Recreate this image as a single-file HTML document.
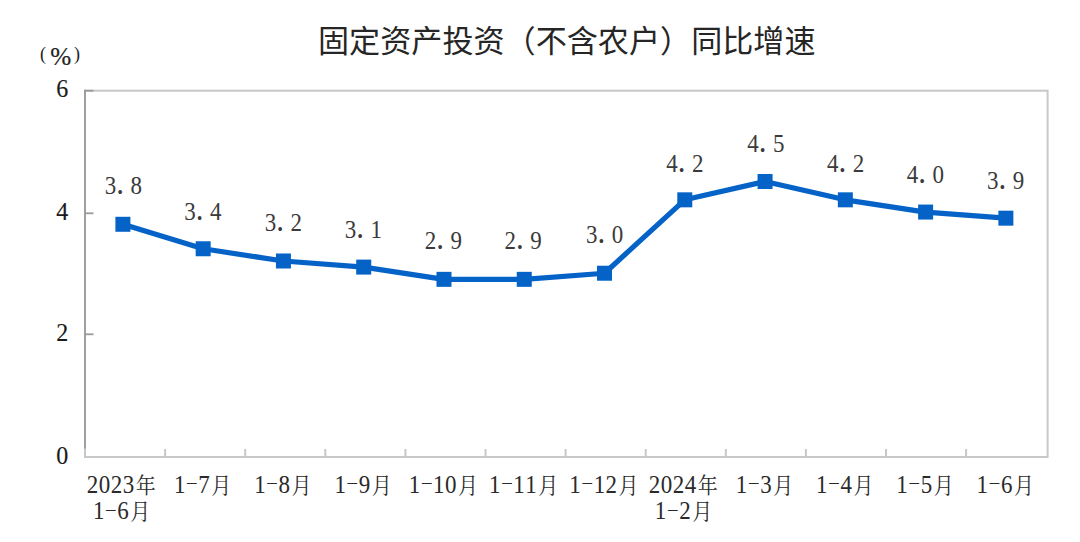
<!DOCTYPE html>
<html><head><meta charset="utf-8"><style>
html,body{margin:0;padding:0;background:#fff;}
body{width:1080px;height:542px;overflow:hidden;}
svg{display:block;}
.yl{font-family:"Liberation Serif","Noto Serif CJK SC",serif;font-size:24px;text-anchor:middle;fill:#1a1a1a;stroke:#1a1a1a;stroke-width:0.15px;}
.dl{font-family:"Liberation Serif","Noto Serif CJK SC",serif;font-size:23px;text-anchor:middle;fill:#3a3a3a;}
.xl{font-family:"Liberation Serif","Noto Serif CJK SC",serif;font-size:23px;text-anchor:middle;fill:#2a2a2a;letter-spacing:0.5px;}
.dl .pd{font-size:31px;}
.xl .cj{font-size:20px;letter-spacing:0;stroke-width:0;}
.xl .ds{font-size:19px;}
.tt{font-family:"Liberation Sans","Noto Sans CJK SC",sans-serif;font-size:31.1px;fill:#262626;}
.pc{font-family:"Liberation Serif","Noto Serif CJK SC",serif;font-size:18px;fill:#222;}
.pc2{font-family:"Liberation Serif","Noto Serif CJK SC",serif;font-size:24px;fill:#222;stroke:#222;stroke-width:0.2px;}
</style></head><body>
<svg width="1080" height="542" viewBox="0 0 1080 542">
<rect width="1080" height="542" fill="#fff"/>
<text x="318" y="51.5" class="tt">固定资产投资（不含农户）同比增速</text>
<text x="40" y="60" class="pc">(</text><text transform="translate(50.3 65.3) scale(1.05 1.03)" class="pc2">%</text><text x="74" y="60" class="pc">)</text>
<rect x="85" y="90.7" width="962.5999999999999" height="366.3" fill="none" stroke="#c8c8c8" stroke-width="2"/>
<line x1="165.1" y1="449" x2="165.1" y2="457" stroke="#c8c8c8" stroke-width="2"/>
<line x1="245.2" y1="449" x2="245.2" y2="457" stroke="#c8c8c8" stroke-width="2"/>
<line x1="325.3" y1="449" x2="325.3" y2="457" stroke="#c8c8c8" stroke-width="2"/>
<line x1="405.4" y1="449" x2="405.4" y2="457" stroke="#c8c8c8" stroke-width="2"/>
<line x1="485.5" y1="449" x2="485.5" y2="457" stroke="#c8c8c8" stroke-width="2"/>
<line x1="565.6" y1="449" x2="565.6" y2="457" stroke="#c8c8c8" stroke-width="2"/>
<line x1="645.7" y1="449" x2="645.7" y2="457" stroke="#c8c8c8" stroke-width="2"/>
<line x1="725.8" y1="449" x2="725.8" y2="457" stroke="#c8c8c8" stroke-width="2"/>
<line x1="805.9" y1="449" x2="805.9" y2="457" stroke="#c8c8c8" stroke-width="2"/>
<line x1="886.0" y1="449" x2="886.0" y2="457" stroke="#c8c8c8" stroke-width="2"/>
<line x1="966.1" y1="449" x2="966.1" y2="457" stroke="#c8c8c8" stroke-width="2"/>
<line x1="85" y1="89.8" x2="85" y2="448.5" stroke="#9a9a9a" stroke-width="1.8"/>
<text transform="translate(62.3 463.9) scale(1 1.07)" class="yl">0</text>
<line x1="85" y1="334.3" x2="93.5" y2="334.3" stroke="#9a9a9a" stroke-width="1.8"/>
<text transform="translate(62.3 340.8) scale(1 1.07)" class="yl">2</text>
<line x1="85" y1="213.3" x2="93.5" y2="213.3" stroke="#9a9a9a" stroke-width="1.8"/>
<text transform="translate(62.3 219.9) scale(1 1.07)" class="yl">4</text>
<line x1="85" y1="90.7" x2="93.5" y2="90.7" stroke="#9a9a9a" stroke-width="1.8"/>
<text transform="translate(62.3 97.1) scale(1 1.07)" class="yl">6</text>
<polyline points="122.90,224.29 203.17,248.76 283.44,260.99 363.71,267.10 443.98,279.34 524.25,279.34 604.52,273.22 684.79,199.83 765.06,181.48 845.33,199.83 925.60,212.06 1005.87,218.18" fill="none" stroke="#0563C8" stroke-width="5.2" stroke-linejoin="round"/>
<rect x="115.40" y="216.79" width="15" height="15" fill="#0563C8"/>
<rect x="195.67" y="241.26" width="15" height="15" fill="#0563C8"/>
<rect x="275.94" y="253.49" width="15" height="15" fill="#0563C8"/>
<rect x="356.21" y="259.60" width="15" height="15" fill="#0563C8"/>
<rect x="436.48" y="271.84" width="15" height="15" fill="#0563C8"/>
<rect x="516.75" y="271.84" width="15" height="15" fill="#0563C8"/>
<rect x="597.02" y="265.72" width="15" height="15" fill="#0563C8"/>
<rect x="677.29" y="192.33" width="15" height="15" fill="#0563C8"/>
<rect x="757.56" y="173.98" width="15" height="15" fill="#0563C8"/>
<rect x="837.83" y="192.33" width="15" height="15" fill="#0563C8"/>
<rect x="918.10" y="204.56" width="15" height="15" fill="#0563C8"/>
<rect x="998.37" y="210.68" width="15" height="15" fill="#0563C8"/>
<text transform="translate(123.40 194.49) scale(1 1.065)" class="dl">3<tspan class="pd">.</tspan><tspan dx="6.5">8</tspan></text>
<text transform="translate(202.87 220.11) scale(1 1.065)" class="dl">3<tspan class="pd">.</tspan><tspan dx="6.5">4</tspan></text>
<text transform="translate(283.39 231.39) scale(1 1.065)" class="dl">3<tspan class="pd">.</tspan><tspan dx="6.5">2</tspan></text>
<text transform="translate(363.41 237.50) scale(1 1.065)" class="dl">3<tspan class="pd">.</tspan><tspan dx="6.5">1</tspan></text>
<text transform="translate(443.33 249.29) scale(1 1.065)" class="dl">2<tspan class="pd">.</tspan><tspan dx="6.5">9</tspan></text>
<text transform="translate(523.10 249.29) scale(1 1.065)" class="dl">2<tspan class="pd">.</tspan><tspan dx="6.5">9</tspan></text>
<text transform="translate(604.52 243.17) scale(1 1.065)" class="dl">3<tspan class="pd">.</tspan><tspan dx="6.5">0</tspan></text>
<text transform="translate(684.79 171.63) scale(1 1.065)" class="dl">4<tspan class="pd">.</tspan><tspan dx="6.5">2</tspan></text>
<text transform="translate(765.96 151.73) scale(1 1.065)" class="dl">4<tspan class="pd">.</tspan><tspan dx="6.5">5</tspan></text>
<text transform="translate(845.68 171.63) scale(1 1.065)" class="dl">4<tspan class="pd">.</tspan><tspan dx="6.5">2</tspan></text>
<text transform="translate(925.45 182.56) scale(1 1.065)" class="dl">4<tspan class="pd">.</tspan><tspan dx="6.5">0</tspan></text>
<text transform="translate(1005.72 188.68) scale(1 1.065)" class="dl">3<tspan class="pd">.</tspan><tspan dx="6.5">9</tspan></text>
<text transform="translate(121.30 492.5) scale(1 1.1)" class="xl"><tspan>2</tspan><tspan>0</tspan><tspan>2</tspan><tspan>3</tspan><tspan class="cj" dx="1.0">年</tspan></text>
<text transform="translate(121.60 519.4) scale(1 1.1)" class="xl"><tspan>1</tspan><tspan class="ds" dx="1.2" dy="-3.4">–</tspan><tspan dx="1.2" dy="3.4">6</tspan><tspan class="cj" dx="1.0">月</tspan></text>
<text transform="translate(202.57 492.5) scale(1 1.1)" class="xl"><tspan>1</tspan><tspan class="ds" dx="1.2" dy="-3.4">–</tspan><tspan dx="1.2" dy="3.4">7</tspan><tspan class="cj" dx="1.0">月</tspan></text>
<text transform="translate(282.84 492.5) scale(1 1.1)" class="xl"><tspan>1</tspan><tspan class="ds" dx="1.2" dy="-3.4">–</tspan><tspan dx="1.2" dy="3.4">8</tspan><tspan class="cj" dx="1.0">月</tspan></text>
<text transform="translate(363.11 492.5) scale(1 1.1)" class="xl"><tspan>1</tspan><tspan class="ds" dx="1.2" dy="-3.4">–</tspan><tspan dx="1.2" dy="3.4">9</tspan><tspan class="cj" dx="1.0">月</tspan></text>
<text transform="translate(443.38 492.5) scale(1 1.1)" class="xl"><tspan>1</tspan><tspan class="ds" dx="1.2" dy="-3.4">–</tspan><tspan dx="1.2" dy="3.4">1</tspan><tspan>0</tspan><tspan class="cj" dx="1.0">月</tspan></text>
<text transform="translate(523.65 492.5) scale(1 1.1)" class="xl"><tspan>1</tspan><tspan class="ds" dx="1.2" dy="-3.4">–</tspan><tspan dx="1.2" dy="3.4">1</tspan><tspan>1</tspan><tspan class="cj" dx="1.0">月</tspan></text>
<text transform="translate(603.92 492.5) scale(1 1.1)" class="xl"><tspan>1</tspan><tspan class="ds" dx="1.2" dy="-3.4">–</tspan><tspan dx="1.2" dy="3.4">1</tspan><tspan>2</tspan><tspan class="cj" dx="1.0">月</tspan></text>
<text transform="translate(683.19 492.5) scale(1 1.1)" class="xl"><tspan>2</tspan><tspan>0</tspan><tspan>2</tspan><tspan>4</tspan><tspan class="cj" dx="1.0">年</tspan></text>
<text transform="translate(683.49 519.4) scale(1 1.1)" class="xl"><tspan>1</tspan><tspan class="ds" dx="1.2" dy="-3.4">–</tspan><tspan dx="1.2" dy="3.4">2</tspan><tspan class="cj" dx="1.0">月</tspan></text>
<text transform="translate(764.46 492.5) scale(1 1.1)" class="xl"><tspan>1</tspan><tspan class="ds" dx="1.2" dy="-3.4">–</tspan><tspan dx="1.2" dy="3.4">3</tspan><tspan class="cj" dx="1.0">月</tspan></text>
<text transform="translate(844.73 492.5) scale(1 1.1)" class="xl"><tspan>1</tspan><tspan class="ds" dx="1.2" dy="-3.4">–</tspan><tspan dx="1.2" dy="3.4">4</tspan><tspan class="cj" dx="1.0">月</tspan></text>
<text transform="translate(925.00 492.5) scale(1 1.1)" class="xl"><tspan>1</tspan><tspan class="ds" dx="1.2" dy="-3.4">–</tspan><tspan dx="1.2" dy="3.4">5</tspan><tspan class="cj" dx="1.0">月</tspan></text>
<text transform="translate(1005.27 492.5) scale(1 1.1)" class="xl"><tspan>1</tspan><tspan class="ds" dx="1.2" dy="-3.4">–</tspan><tspan dx="1.2" dy="3.4">6</tspan><tspan class="cj" dx="1.0">月</tspan></text>
</svg>
</body></html>
